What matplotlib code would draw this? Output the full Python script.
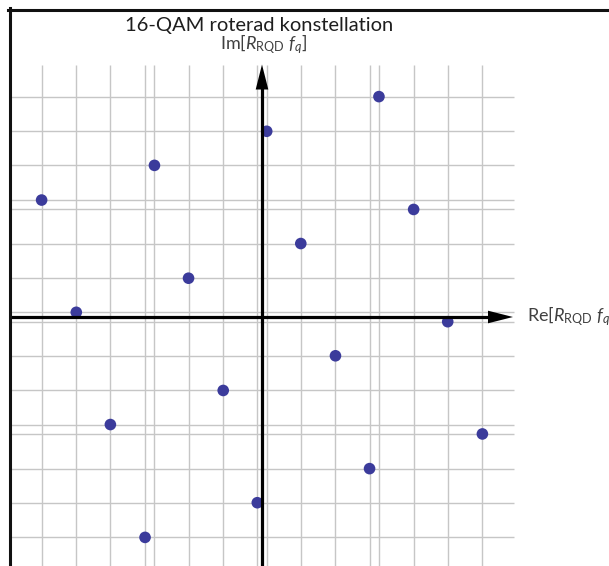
import matplotlib
matplotlib.use("Agg")
import matplotlib.pyplot as plt
from matplotlib.lines import Line2D
from matplotlib.patches import Polygon

# ---- data ----
re_vals = [1.99, 0.08, -1.83, -3.75, 2.58, 0.66, -1.25, -3.16,
           3.16, 1.25, -0.66, -2.58, 3.75, 1.83, -0.08, -1.99]
im_vals = [3.75, 3.16, 2.58, 1.99, 1.83, 1.25, 0.66, 0.08,
           -0.08, -0.66, -1.25, -1.83, -1.99, -2.58, -3.16, -3.75]
title = "16-QAM roterad konstellation"
xlabel = r"Re[$R_{\mathrm{RQD}}$ $f_q$]"
ylabel = r"Im[$R_{\mathrm{RQD}}$ $f_q$]"

plt.rcParams['font.family'] = ['Lato', 'DejaVu Sans']
plt.rcParams['mathtext.fontset'] = 'custom'
plt.rcParams['mathtext.rm'] = 'Lato'
plt.rcParams['mathtext.it'] = 'Lato:italic'

W, H = 609, 566
fig = plt.figure(figsize=(W / 100, H / 100), dpi=100)
ax = fig.add_axes([0, 0, 1, 1])
k = 58.77  # px per unit
ox, oy = 262, 317
ax.set_xlim(-ox / k, (W - ox) / k)
ax.set_ylim((oy - H) / k, oy / k)
ax.axis('off')

G = 4.29
grid_col = '#c6c6c6'
ax.vlines(re_vals, -5, G, colors=grid_col, lw=1.0, zorder=1)
ax.hlines(im_vals, -G, G, colors=grid_col, lw=1.0, zorder=1)

ax.scatter(re_vals, im_vals, s=70, color='#3b3b9b', edgecolors='none', zorder=3)

# axes with arrow heads
hl = 25 / k
hw = 6.3 / k
tipx = (513 - ox) / k
tipy = (oy - 64.5) / k
ax.plot([-4.3, tipx - hl + 0.02], [0, 0], color='black', lw=2.3, zorder=4, solid_capstyle='butt')
ax.plot([0, 0], [-5, tipy - hl + 0.02], color='black', lw=2.3, zorder=4, solid_capstyle='butt')
ax.add_patch(Polygon([[tipx, 0], [tipx - hl, hw], [tipx - hl, -hw]], closed=True,
                     facecolor='black', edgecolor='none', zorder=4))
ax.add_patch(Polygon([[0, tipy], [hw, tipy - hl], [-hw, tipy - hl]], closed=True,
                     facecolor='black', edgecolor='none', zorder=4))

# frame (top and left)
fx = 9.5 / W
fy = 1 - 9.5 / H
fig.add_artist(Line2D([fx, fx], [0, fy + 1.2 / H], transform=fig.transFigure, color='#111111', lw=2.2))
fig.add_artist(Line2D([fx - 1.2 / W, 1], [fy, fy], transform=fig.transFigure, color='#111111', lw=2.2))

# texts
fig.text(259 / W, 1 - 31.5 / H, title, ha='center', va='baseline', fontsize=14.5, color='#1e1e1e')
fig.text(264 / W, 1 - 49 / H, ylabel, ha='center', va='baseline', fontsize=13, color='#404040')
fig.text(527 / W, 1 - 321 / H, xlabel, ha='left', va='baseline', fontsize=13, color='#404040')

fig.savefig('out.png', dpi=100)
